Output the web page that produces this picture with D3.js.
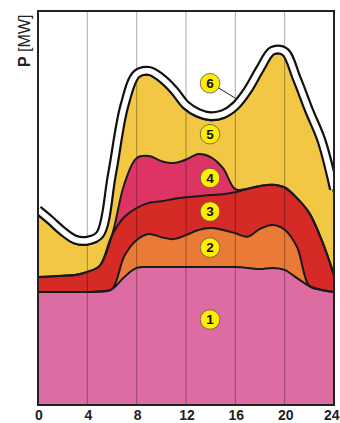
<!DOCTYPE html>
<html><head><meta charset="utf-8">
<script src="https://cdn.jsdelivr.net/npm/d3@7"></script>
<style>html,body{margin:0;padding:0;background:#fff;} svg{display:block;}</style>
</head><body>
<svg id="c" width="340" height="423"></svg>
<script>
// ---- data (hourly, arbitrary MW units; stacked layer thicknesses) ----
const hours  = [0,1,2,3,4,5,6,7,8,9,10,11,12,13,14,15,16,17,18,19,20,21,22,23,24];
const layer1 = [28.7,28.7,28.7,28.7,28.7,28.8,29.4,32.5,34.8,35.0,35.0,35.0,35.0,35.0,35.0,35.0,35.0,34.8,34.5,34.8,34.3,32.2,30.2,29.2,28.7];
const layer2 = [0,0,0,0,0,0,0,5.3,7.1,8.4,7.6,7.1,8.1,9.4,9.9,9.4,8.6,7.9,10.2,10.9,10.2,7.9,0,0,0];
const layer3 = [3.8,3.9,4.1,4.3,5.1,6.5,13.7,9.9,8.1,7.9,9.1,10.2,9.6,8.6,8.4,9.1,10.4,12.2,10.9,10.2,10.7,12.4,18.5,12.7,4.3];
const layer4 = [0,0,0,0,0,0,0,8.4,12.7,11.9,10.2,9.1,9.6,10.7,9.6,6.6,0.8,0,0,0,0,0,0,0,0];
const layer5 = [16.0,13.3,10.3,8.0,6.9,6.9,14.5,18.8,20.3,20.6,20.1,17.6,12.8,9.4,9.4,12.7,20.1,24.0,28.7,33.0,33.5,29.2,24.9,24.1,20.8];
const layer6 = [2.0,2.0,2.0,2.0,2.0,2.0,2.0,2.0,2.0,2.0,2.0,2.0,2.0,2.0,2.0,2.0,2.0,2.0,2.0,2.0,2.0,2.0,2.0,2.0,2.0];
const layerNames = ["1","2","3","4","5","6"];
const xTicks = [0,4,8,12,16,20,24];
const yTitleBold = "P";
const yTitleRest = " [MW]";

// ---- styles / layout ----
const colors = ["#dc6ca1","#e97b37","#d52a26","#dd3464","#f2c744","#ffffff"];
const labelHour = 13.95;
const labelFrac = [0.62,0.5,0.5,0.45,0.62];
const x = d3.scaleLinear().domain([0,24]).range([38,334]);
const y = d3.scaleLinear().domain([0,100]).range([405,11]);

const series = [layer1,layer2,layer3,layer4,layer5,layer6];
const table = hours.map((h,i)=>{ const o={h}; layerNames.forEach((k,j)=>o[k]=series[j][i]); return o; });
const stacked = d3.stack().keys(layerNames)(table);

const svg = d3.select("#c");
const curve = d3.curveCatmullRom.alpha(0.5);
const cumArea = d3.area().x(d=>x(d.data.h)).y0(y(0)).y1(d=>y(d[1])).curve(curve);
const topLine = d3.line().x(d=>x(d.data.h)).y(d=>y(d[1])).curve(curve);
const midLine = d3.line().x(d=>x(d.data.h)).y(d=>y((d[0]+d[1])/2)).curve(curve);

svg.append("defs").append("clipPath").attr("id","plot")
  .append("rect").attr("x",x(0)).attr("y",y(100)).attr("width",x(24)-x(0)).attr("height",y(0)-y(100));
const g = svg.append("g").attr("clip-path","url(#plot)");

// fills layers 5..1 as cumulative areas (lower layers painted over upper ones)
const fillLayers = stacked.slice(0,5).map((s,i)=>({s,i})).reverse();
g.selectAll("path.a").data(fillLayers).join("path")
  .attr("d",d=>cumArea(d.s)).attr("fill",d=>colors[d.i]);

// grid
g.selectAll("line.grid").data(xTicks.slice(1,-1)).join("line")
  .attr("x1",d=>x(d)).attr("x2",d=>x(d)).attr("y1",y(100)).attr("y2",y(0))
  .attr("stroke","#000").attr("stroke-opacity",0.33).attr("stroke-width",1);

// boundary lines
g.selectAll("path.b").data(stacked.slice(0,5)).join("path")
  .attr("d",topLine).attr("fill","none").attr("stroke","#1a1a1a").attr("stroke-width",2).attr("stroke-linejoin","round");

// layer 6 as cased band
g.append("path").datum(stacked[5]).attr("d",midLine).attr("fill","none")
  .attr("stroke","#111").attr("stroke-width",10);
g.append("path").datum(stacked[5]).attr("d",midLine).attr("fill","none")
  .attr("stroke",colors[5]).attr("stroke-width",5.6);

// frame
svg.append("rect").attr("x",x(0)).attr("y",y(100)).attr("width",x(24)-x(0)).attr("height",y(0)-y(100))
  .attr("fill","none").attr("stroke","#222").attr("stroke-width",2);

// x tick labels
svg.selectAll("text.tk").data(xTicks).join("text")
  .attr("x",d=>d===24 ? 339.5 : x(d)+1).attr("y",419.5)
  .attr("text-anchor",d=>d===24 ? "end" : "middle")
  .attr("font-family","Liberation Sans, Arial, sans-serif").attr("font-weight","bold")
  .attr("font-size",14).attr("fill","#222").text(d=>d);

// y title
const yt = svg.append("text").attr("transform","translate(30,67) rotate(-90)")
  .attr("font-family","Liberation Sans, Arial, sans-serif").attr("font-size",16).attr("fill","#222");
yt.append("tspan").attr("font-weight","bold").text(yTitleBold);
yt.append("tspan").text(yTitleRest);

// labels
const hi = hours.indexOf(14);
const badge = (cx,cy,t)=>{
  svg.append("circle").attr("cx",cx).attr("cy",cy).attr("r",9.8).attr("fill","#ffed00").attr("stroke","#555").attr("stroke-width",0.8);
  svg.append("text").attr("x",cx).attr("y",cy+4.7).attr("text-anchor","middle")
    .attr("font-family","Liberation Sans, Arial, sans-serif").attr("font-weight","bold").attr("font-size",13.5)
    .attr("fill","#111").text(t);
};
for (let j=0;j<5;j++){
  const d = stacked[j][hi];
  badge(x(labelHour), y(d[0]+(d[1]-d[0])*labelFrac[j]), layerNames[j]);
}
// label 6 with leader
const l6 = stacked[5][hi];
const l6x = x(labelHour), l6y = y(l6[1]) - 29;
const tgt = stacked[5][hours.indexOf(16)];
svg.append("line").attr("x1",l6x+6).attr("y1",l6y+3).attr("x2",x(16.1)).attr("y2",y(tgt[1])-3)
  .attr("stroke","#222").attr("stroke-width",1);
badge(l6x, l6y, layerNames[5]);
</script>
</body></html>
